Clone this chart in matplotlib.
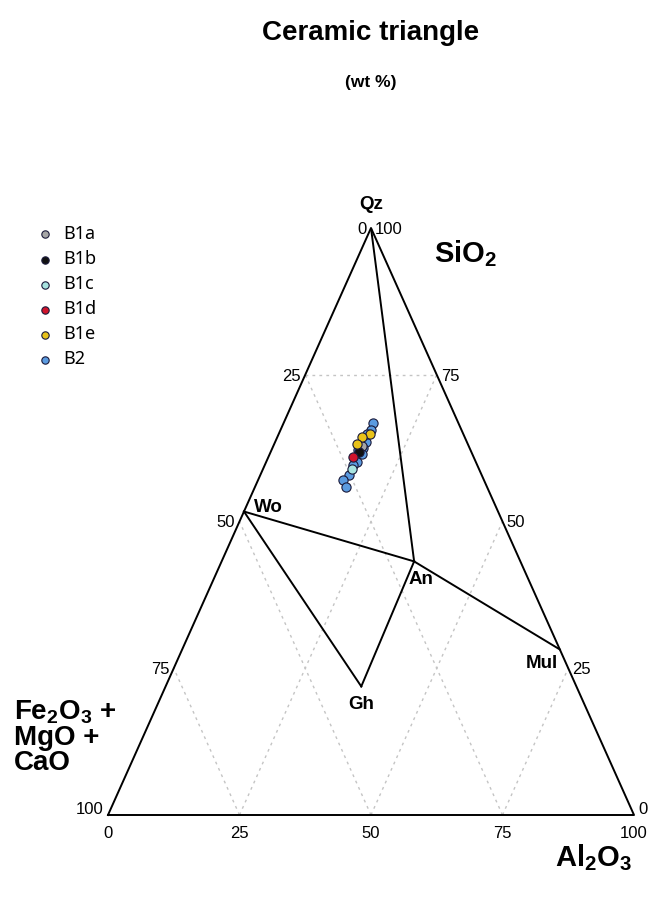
import matplotlib
matplotlib.use('Agg')
import matplotlib.pyplot as plt
import numpy as np

# 矿物端元 (wt %): SiO2, Al2O3, 余量为 Fe2O3+MgO+CaO
minerals = ['Qz', 'Wo', 'An', 'Mul', 'Gh']
min_sio2 = [100.0, 51.7, 43.2, 28.2, 21.9]
min_al2o3 = [0.0, 0.0, 36.6, 71.8, 37.2]
tie_lines = [('Qz', 'An'), ('Wo', 'An'), ('An', 'Mul'), ('Wo', 'Gh'), ('Gh', 'An')]

# 样品数据
groups = ['B1a', 'B1b', 'B1c', 'B1d', 'B1e', 'B2']
colors = ['#a6a6a6', '#111111', '#a8e4e0', '#d0142c', '#e8c21a', '#5b9be0']
sio2 = {
    'B1a': [62.8],
    'B1b': [61.8],
    'B1c': [58.9],
    'B1d': [61.0],
    'B1e': [64.9, 64.4, 63.2],
    'B2': [66.8, 65.6, 63.5, 62.5, 61.5, 60.1, 59.6, 57.9, 57.1, 55.9, 64.9, 62.2],
}
al2o3 = {
    'B1a': [16.9],
    'B1b': [16.8],
    'B1c': [16.9],
    'B1d': [16.1],
    'B1e': [17.4, 16.1, 15.7],
    'B2': [17.0, 17.2, 17.3, 17.2, 17.5, 17.3, 16.8, 16.9, 16.1, 17.3, 16.8, 16.4],
}
ticks = [0, 25, 50, 75, 100]
grid_vals = [25, 50, 75]


def tern(s, a):
    # 三元坐标 -> 直角坐标
    s = np.asarray(s) / 100.0
    a = np.asarray(a) / 100.0
    return a + s / 2, s


plt.rcParams['mathtext.fontset'] = 'custom'
plt.rcParams['mathtext.bf'] = 'Liberation Sans:bold'
plt.rcParams['mathtext.rm'] = 'Liberation Sans:bold'

fig = plt.figure(figsize=(6.53, 8.98), dpi=100)
ax = fig.add_axes([108 / 653, 83 / 898, 526 / 653, 587 / 898])
ax.set_xlim(0, 1)
ax.set_ylim(0, 1)
ax.axis('off')

# 网格线
gk = dict(color='#c4c4c4', lw=1, ls=(0, (2, 3)), zorder=1)
for t in grid_vals:
    # Al2O3 = t
    x, y = tern([0, 100 - t], [t, t])
    ax.plot(x, y, **gk)
    # Fe2O3+MgO+CaO = t
    x, y = tern([0, 100 - t], [100 - t, 0])
    ax.plot(x, y, **gk)
x, y = tern([75, 75], [0, 25])
ax.plot(x, y, **gk)

# 三角形边框
x, y = tern([0, 0, 100, 0], [0, 100, 0, 0])
ax.plot(x, y, color='black', lw=1.4, zorder=2, clip_on=False)

# 连线
mx, my = tern(min_sio2, min_al2o3)
pos = {m: (mx[i], my[i]) for i, m in enumerate(minerals)}
for p, q in tie_lines:
    ax.plot([pos[p][0], pos[q][0]], [pos[p][1], pos[q][1]], color='black', lw=1.4, zorder=2)

fam = ['Liberation Sans', 'DejaVu Sans']
bold = dict(family=fam, weight='bold')
norm = dict(family=fam)

offs = {'Qz': (0, 17, 'center'), 'Wo': (7, 3, 'left'), 'An': (-4, -13, 'left'),
        'Mul': (-1, -10, 'right'), 'Gh': (0, -13, 'center')}
for m in minerals:
    dx, dy, ha = offs[m]
    ax.annotate(m, pos[m], xytext=(dx, dy), textcoords='offset points', ha=ha, va='center',
                fontsize=13.5, **bold)

# 刻度
for t in ticks:
    x, y = tern(0, t)
    ax.annotate(str(t), (x, y), xytext=(0, -13), textcoords='offset points', ha='center', va='center', fontsize=12, **norm)
    x, y = tern(t, 0)
    ax.annotate(str(100 - t), (x, y), xytext=(-3, 4 if t == 0 else -1), textcoords='offset points',
                ha='right', va='center', fontsize=12, **norm)
    x, y = tern(t, 100 - t)
    ax.annotate(str(t), (x, y), xytext=(3, 4 if t == 0 else -1), textcoords='offset points',
                ha='left', va='center', fontsize=12, **norm)

# 样品点
for g, c in zip(groups, colors):
    x, y = tern(sio2[g], al2o3[g])
    ax.scatter(x, y, s=44, color=c, edgecolor='#1a1a3a', lw=0.8, zorder=5 if g == 'B2' else 6, label=g)

h, l = ax.get_legend_handles_labels()
fig.legend(h, l, loc='upper left', bbox_to_anchor=(20 / 653, 1 - 218 / 898), frameon=False,
           handletextpad=0.0, labelspacing=0.39, borderaxespad=0, markerscale=0.8,
           prop=dict(family=['Noto Sans', 'DejaVu Sans'], size=13))

fig.text(371 / 653, 1 - 33 / 898, 'Ceramic triangle', ha='center', va='center', fontsize=20, **bold)
fig.text(371 / 653, 1 - 82 / 898, '(wt %)', ha='center', va='center', fontsize=12.5, **bold)

fig.text(434 / 653, 1 - 254 / 898, r'SiO$_\mathbf{2}$', ha='left', va='center', fontsize=21, **bold)
fig.text(555 / 653, 1 - 858 / 898, r'Al$_\mathbf{2}$O$_\mathbf{3}$', ha='left', va='center', fontsize=21, **bold)
fig.text(14 / 653, 1 - 737 / 898, 'Fe$_\\mathbf{2}$O$_\\mathbf{3}$ +\nMgO +\nCaO', ha='left', va='center',
         fontsize=20, linespacing=0.95, **bold)

fig.savefig('out.png', dpi=100)
